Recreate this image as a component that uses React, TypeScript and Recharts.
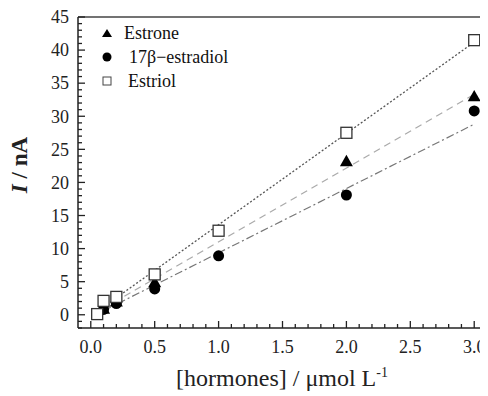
import React from "react";
import { ScatterChart, Scatter, XAxis, YAxis } from "recharts";

// Measured data
const estroneX = [0.1, 0.2, 0.5, 2.0, 3.0];
const estroneY = [0.9, 2.0, 4.9, 23.2, 33.0];
const estradiolX = [0.1, 0.2, 0.5, 1.0, 2.0, 3.0];
const estradiolY = [0.8, 1.7, 3.9, 8.9, 18.1, 30.8];
const estriolX = [0.05, 0.1, 0.2, 0.5, 1.0, 2.0, 3.0];
const estriolY = [0.1, 2.1, 2.7, 6.1, 12.7, 27.5, 41.5];

// Linear fit lines (end points)
const estroneFitX = [0.1, 3.0];
const estroneFitY = [1.0, 33.3];
const estradiolFitX = [0.1, 3.0];
const estradiolFitY = [0.6, 28.8];
const estriolFitX = [0.05, 3.0];
const estriolFitY = [0.5, 41.2];

// Axes
const xMajorTicks = [0.0, 0.5, 1.0, 1.5, 2.0, 2.5, 3.0];
const xTickLabels = ["0.0", "0.5", "1.0", "1.5", "2.0", "2.5", "3.0"];
const xMinorTicks = Array.from({ length: 31 }, (_, i) => Math.round(i * 10) / 100);
const yMajorTicks = [0, 5, 10, 15, 20, 25, 30, 35, 40, 45];
const yTickLabels = ["0", "5", "10", "15", "20", "25", "30", "35", "40", "45"];
const yMinorTicks = Array.from({ length: 48 }, (_, i) => i - 2);

const seriesNames = ["Estrone", "17\u03b2\u2212estradiol", "Estriol"];

const zip = (xs: number[], ys: number[]) => xs.map((x, i) => ({ x, y: ys[i] }));

const FONT = "Liberation Serif";
const AXIS = "#222";

const XTick = (props: any) => {
  const { x, y, payload } = props;
  const v = payload.value;
  const idx = xMajorTicks.findIndex((m) => Math.abs(m - v) < 1e-6);
  const major = idx >= 0;
  return (
    <g>
      <line x1={x} x2={x} y1={y} y2={y - (major ? 7 : 4)} stroke={AXIS} strokeWidth={1.3} />
      {major && (
        <text x={x} y={y + 25} textAnchor="middle" fontFamily={FONT} fontSize={18} fill="#222" stroke="none">
          {xTickLabels[idx]}
        </text>
      )}
    </g>
  );
};

const YTick = (props: any) => {
  const { x, y, payload } = props;
  const v = payload.value;
  const idx = yMajorTicks.findIndex((m) => Math.abs(m - v) < 1e-6);
  const major = idx >= 0;
  return (
    <g>
      <line x1={x} x2={x + (major ? 7 : 4)} y1={y} y2={y} stroke={AXIS} strokeWidth={1.3} />
      {major && (
        <text x={x - 9} y={y} dy="0.35em" textAnchor="end" fontFamily={FONT} fontSize={18} fill="#222" stroke="none">
          {yTickLabels[idx]}
        </text>
      )}
    </g>
  );
};

const Triangle = (props: any) => {
  const { cx, cy } = props;
  const s = 6.5;
  return <polygon points={`${cx},${cy - s} ${cx + s},${cy + s * 0.75} ${cx - s},${cy + s * 0.75}`} fill="#000" />;
};
const Circle = (props: any) => {
  const { cx, cy } = props;
  return <circle cx={cx} cy={cy} r={5.5} fill="#000" />;
};
const Square = (props: any) => {
  const { cx, cy } = props;
  return <rect x={cx - 5.5} y={cy - 5.5} width={11} height={11} fill="#fff" stroke="#333" strokeWidth={1.3} />;
};
const NoShape = () => <g />;

const LegendBox = () => {
  const rows = [
    { name: seriesNames[0], icon: <polygon points="5,1 10,9 0,9" fill="#000" />, gap: 0 },
    { name: seriesNames[1], icon: <circle cx={5} cy={5} r={4.5} fill="#000" />, gap: 5 },
    { name: seriesNames[2], icon: <rect x={1} y={1} width={8} height={8} fill="#fff" stroke="#444" strokeWidth={1} />, gap: 4 },
  ];
  return (
    <div style={{ position: "absolute", left: 94, top: 13, fontFamily: FONT, fontSize: 18, color: "#111" }}>
      {rows.map((r, i) => (
        <div key={i} style={{ display: "flex", alignItems: "center", height: 24 }}>
          <svg width={10} height={10} style={{ marginRight: 12 + r.gap }}>
            {r.icon}
          </svg>
          <span>{r.name}</span>
        </div>
      ))}
    </div>
  );
};

export default function App() {
  return (
    <div style={{ position: "relative", width: 480, height: 388 }}>
      <style>{`.recharts-surface{overflow:visible}`}</style>
      <ScatterChart width={480} height={388} margin={{ top: 8, right: 0, bottom: 67, left: 0 }}>
        <XAxis
          type="number"
          dataKey="x"
          domain={[-0.1, 3.1]}
          ticks={xMinorTicks}
          tick={<XTick />}
          tickLine={false}
          tickSize={0}
          tickMargin={0}
          axisLine={{ stroke: AXIS, strokeWidth: 1.5 }}
          height={1}
          allowDataOverflow
          interval={0}
        />
        <XAxis
          xAxisId="top"
          orientation="top"
          type="number"
          dataKey="x"
          domain={[-0.1, 3.1]}
          tick={false}
          tickLine={false}
          axisLine={{ stroke: "#444", strokeWidth: 1.5 }}
          height={1}
        />
        <YAxis
          type="number"
          dataKey="y"
          domain={[-2, 45]}
          ticks={yMinorTicks}
          tick={<YTick />}
          tickLine={false}
          tickSize={0}
          tickMargin={0}
          axisLine={{ stroke: AXIS, strokeWidth: 1.5 }}
          width={70}
          allowDataOverflow
          interval={0}
        />
        <YAxis
          yAxisId="right"
          orientation="right"
          type="number"
          dataKey="y"
          domain={[-2, 45]}
          tick={false}
          tickLine={false}
          axisLine={{ stroke: "#999", strokeWidth: 1.5 }}
          width={1}
        />
        <Scatter
          data={zip(estriolFitX, estriolFitY)}
          shape={<NoShape />}
          line={{ stroke: "#555", strokeWidth: 1.3, strokeDasharray: "2 2" }}
          legendType="none"
          isAnimationActive={false}
        />
        <Scatter
          data={zip(estroneFitX, estroneFitY)}
          shape={<NoShape />}
          line={{ stroke: "#aaa", strokeWidth: 1.2, strokeDasharray: "7 5" }}
          legendType="none"
          isAnimationActive={false}
        />
        <Scatter
          data={zip(estradiolFitX, estradiolFitY)}
          shape={<NoShape />}
          line={{ stroke: "#777", strokeWidth: 1.2, strokeDasharray: "8 3 2 3" }}
          legendType="none"
          isAnimationActive={false}
        />
        <Scatter name={seriesNames[1]} data={zip(estradiolX, estradiolY)} shape={<Circle />} isAnimationActive={false} />
        <Scatter name={seriesNames[0]} data={zip(estroneX, estroneY)} shape={<Triangle />} isAnimationActive={false} />
        <Scatter name={seriesNames[2]} data={zip(estriolX, estriolY)} shape={<Square />} isAnimationActive={false} />
      </ScatterChart>
      <LegendBox />
      <div
        style={{
          position: "absolute",
          left: -2,
          top: 157,
          transform: "translate(-50%, -50%) rotate(-90deg)",
          transformOrigin: "center",
          fontFamily: FONT,
          fontSize: 23,
          fontWeight: "bold",
          whiteSpace: "nowrap",
          marginLeft: 14,
          color: "#222",
        }}
      >
        <i>I</i> / nA
      </div>
      <div
        style={{
          position: "absolute",
          left: 0,
          width: 548,
          top: 357,
          textAlign: "center",
          fontFamily: FONT,
          fontSize: 24,
          whiteSpace: "nowrap",
          color: "#222",
        }}
      >
        [hormones] / μmol L<sup style={{ fontSize: 14, verticalAlign: "9px" }}>-1</sup>
      </div>
    </div>
  );
}
